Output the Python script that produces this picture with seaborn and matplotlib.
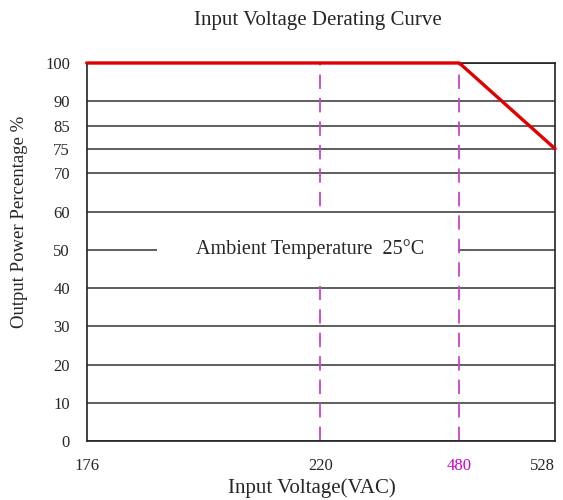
import numpy as np
import pandas as pd
import matplotlib
matplotlib.use("Agg")
import matplotlib.pyplot as plt
import seaborn as sns
from matplotlib.patches import Rectangle

# derating curve data
voltage = [176, 480, 528]
power = [100, 100, 75]

x_ticks = [176, 220, 480, 528]
y_ticks = [0, 10, 20, 30, 40, 50, 60, 70, 75, 85, 90, 100]
marker_volts = [220, 480]

# piecewise axis scales as drawn in the datasheet
x_breaks = [176, 220, 480, 528]
x_pos = [0, 0.4985, 0.7955, 1]
y_breaks = [0, 70, 75, 85, 90, 100]
y_pos = [0, 0.708, 0.773, 0.834, 0.899, 1]

sns.set_style("white")
plt.rcParams['font.family'] = ['Liberation Serif', 'DejaVu Serif']

fig = plt.figure(figsize=(5.63, 5.0), dpi=100)
ax = fig.add_axes([0.154, 0.118, 0.832, 0.756])

ax.set_xscale('function', functions=(lambda v: np.interp(v, x_breaks, x_pos),
                                     lambda p: np.interp(p, x_pos, x_breaks)))
ax.set_yscale('function', functions=(lambda v: np.interp(v, y_breaks, y_pos),
                                     lambda p: np.interp(p, y_pos, y_breaks)))

df = pd.DataFrame({"Input Voltage": voltage, "Output Power": power})
sns.lineplot(data=df, x="Input Voltage", y="Output Power", color="#e00000",
             lw=2.4, ax=ax, zorder=4, clip_on=False)

for v in marker_volts:
    ax.axvline(v, color="#cc44cc", lw=1.3, dashes=(8, 5), zorder=2)

ax.set_xlim(176, 528)
ax.set_ylim(0, 100)
ax.set_xticks(x_ticks)
ax.set_xticklabels([str(t) for t in x_ticks])
ax.set_yticks(y_ticks)
ax.set_yticklabels([str(t) for t in y_ticks])
xlabels = ax.get_xticklabels()
xlabels[2].set_color("#cc00cc")
xlabels[-1].set_horizontalalignment("right")
ax.tick_params(axis='both', length=0, labelsize=12)
ax.tick_params(axis='x', pad=12)
ax.tick_params(axis='y', pad=12)
ax.grid(axis='y', color="#333333", lw=1.1)
ax.grid(axis='x', visible=False)
for s in ax.spines.values():
    s.set_color("#222222")
    s.set_linewidth(1.2)
ax.set_xlabel("")
ax.set_ylabel("")

# white label box over the grid
ax.add_patch(Rectangle((0.15, 0.41), 0.642, 0.19, transform=ax.transAxes,
                       facecolor="white", edgecolor="none", zorder=3))
ax.text(0.478, 0.508, "Ambient Temperature  25°C", transform=ax.transAxes,
        ha="center", va="center", fontsize=14.5, zorder=5)

fig.text(318 / 563, 1 - 20 / 500, "Input Voltage Derating Curve",
         ha="center", va="center", fontsize=15)
fig.text(312 / 563, 1 - 488 / 500, "Input Voltage(VAC)",
         ha="center", va="center", fontsize=15)
fig.text(20 / 563, 1 - 222 / 500, "Output Power Percentage %",
         ha="center", va="center", rotation=90, fontsize=13.5)

fig.savefig("out.png", dpi=100)
